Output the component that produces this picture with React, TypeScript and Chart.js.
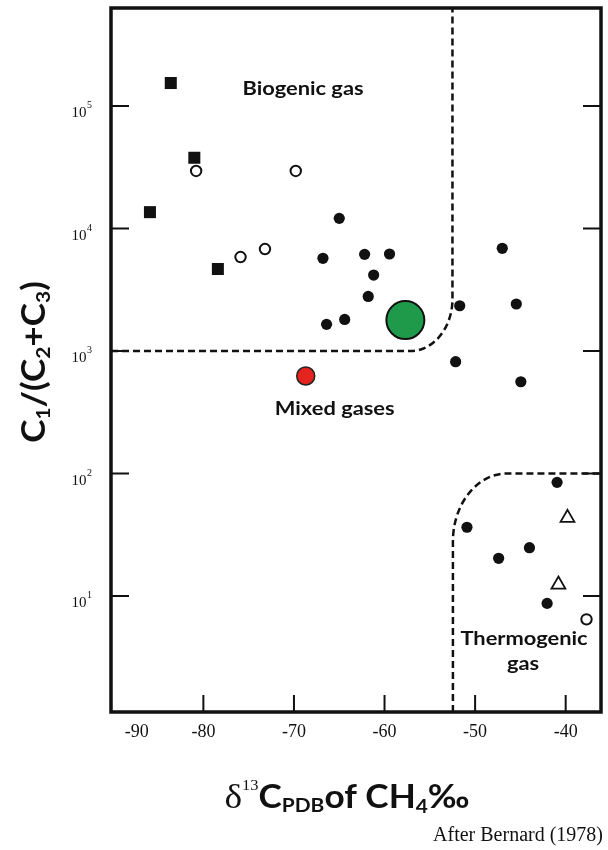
import { useEffect, useRef } from "react";
import { Chart, registerables } from "chart.js";

Chart.register(...registerables);

// δ13C of methane (‰ vs PDB) against the gas-wetness ratio C1/(C2+C3)
const squareD13C = [-83.6, -81.0, -85.9, -78.4];
const squareRatio = [154000, 37800, 13600, 4670];

const openCircleD13C = [-80.8, -69.8, -75.9, -73.2, -37.7];
const openCircleRatio = [29500, 29500, 5850, 6800, 6.45];

const filledCircleD13C = [
  -65.0, -66.8, -62.2, -59.45, -61.2, -61.8, -64.4, -66.4,
  -47.0, -51.7, -45.45, -52.15, -44.95,
  -40.95, -50.9, -44.0, -47.4, -42.05,
];
const filledCircleRatio = [
  12100, 5710, 6150, 6190, 4170, 2790, 1810, 1650,
  6890, 2340, 2420, 818, 561,
  84.7, 36.4, 24.8, 20.3, 8.7,
];

const triangleD13C = [-39.8, -40.8];
const triangleRatio = [43.4, 12.4];

const greenSampleD13C = [-57.7];
const greenSampleRatio = [1790];

const redSampleD13C = [-68.7];
const redSampleRatio = [625];

// Axis extents and ticks
const xRange = [-90.2, -36.1];
const yRange = [1.13, 631000];
const xTickValues = [-90, -80, -70, -60, -50, -40];
const xTickLabels = ["-90", "-80", "-70", "-60", "-50", "-40"];
const yTickExponents = [1, 2, 3, 4, 5];

// Genetic field limits (Bernard diagram)
const biogenicRatioLimit = 1000;
const biogenicD13CLimit = -52.5;
const thermogenicRatioLimit = 100;
const thermogenicD13CLimit = -52.45;

// Field names anchored in data coordinates (centre x, baseline y)
const fieldNames = ["Biogenic gas", "Mixed gases", "Thermogenic", "gas"];
const fieldNameD13C = [-69.0, -65.5, -44.6, -44.7];
const fieldNameRatio = [123000, 300, 3.98, 2.49];

const pts = (xs: number[], ys: number[]) => xs.map((x, i) => ({ x, y: ys[i] }));

type Run = { t: string; font: string; dy: number };

// Draws a line of mixed-size text centred on (cx, baseline cy), optionally
// rotated for a vertical axis title and widened by `stretch`.
function drawRuns(
  ctx: CanvasRenderingContext2D,
  runs: Run[],
  cx: number,
  cy: number,
  rotate: boolean,
  stretch: number
) {
  ctx.save();
  ctx.translate(cx, cy);
  if (rotate) ctx.rotate(-Math.PI / 2);
  ctx.scale(stretch, 1);
  ctx.textAlign = "left";
  ctx.textBaseline = "alphabetic";
  let total = 0;
  const widths = runs.map((r) => {
    ctx.font = r.font;
    const w = ctx.measureText(r.t).width;
    total += w;
    return w;
  });
  let pos = -total / 2;
  runs.forEach((r, i) => {
    ctx.font = r.font;
    ctx.fillText(r.t, pos, r.dy);
    pos += widths[i];
  });
  ctx.restore();
}

const INK = "#111";
const BOLD = (s: number) => `bold ${s}px Lato`;
const SERIF = (s: number) => `${s}px 'Liberation Serif'`;

const bernardPlugin = {
  id: "bernardDecor",
  beforeDatasetsDraw(chart: any) {
    const { ctx, chartArea: a, scales } = chart;
    const x = scales.x;
    const y = scales.y;
    ctx.save();
    ctx.strokeStyle = INK;
    ctx.lineWidth = 2.5;
    ctx.setLineDash([7, 4]);

    // biogenic field: C1/(C2+C3) > 1000 and δ13C < -52.5
    const by = y.getPixelForValue(biogenicRatioLimit);
    const bx = x.getPixelForValue(biogenicD13CLimit);
    const brx = 42;
    const bry = 52;
    ctx.beginPath();
    ctx.moveTo(a.left, by);
    ctx.lineTo(bx - brx, by);
    ctx.ellipse(bx - brx, by - bry, brx, bry, 0, Math.PI / 2, 0, true);
    ctx.lineTo(bx, a.top);
    ctx.stroke();

    // thermogenic field: C1/(C2+C3) < 100 and δ13C > -52.5
    const ty = y.getPixelForValue(thermogenicRatioLimit);
    const tx = x.getPixelForValue(thermogenicD13CLimit);
    const trx = 54;
    const tryy = 68;
    ctx.beginPath();
    ctx.moveTo(tx, a.bottom);
    ctx.lineTo(tx, ty + tryy);
    ctx.ellipse(tx + trx, ty + tryy, trx, tryy, 0, Math.PI, Math.PI * 1.5, false);
    ctx.lineTo(a.right, ty);
    ctx.stroke();
    ctx.restore();
  },
  afterDatasetsDraw(chart: any) {
    const { ctx, chartArea: a, scales } = chart;
    const x = scales.x;
    const y = scales.y;
    ctx.save();
    ctx.strokeStyle = INK;
    ctx.fillStyle = INK;

    // inward ticks
    ctx.lineWidth = 2;
    ctx.beginPath();
    xTickValues.forEach((v) => {
      const px = x.getPixelForValue(v);
      if (px - a.left < 4) return;
      ctx.moveTo(px, a.bottom);
      ctx.lineTo(px, a.bottom - 17);
    });
    yTickExponents.forEach((e) => {
      const py = y.getPixelForValue(Math.pow(10, e));
      ctx.moveTo(a.left, py);
      ctx.lineTo(a.left + 18, py);
      ctx.moveTo(a.right, py);
      ctx.lineTo(a.right - 18, py);
    });
    ctx.stroke();

    // frame
    ctx.lineWidth = 3.5;
    ctx.strokeRect(a.left, a.top, a.right - a.left, a.bottom - a.top);

    // x tick labels
    ctx.font = SERIF(18);
    ctx.textAlign = "center";
    ctx.textBaseline = "middle";
    xTickValues.forEach((v, i) => {
      const px = x.getPixelForValue(v) + (i === 0 ? 24 : 0);
      ctx.fillText(xTickLabels[i], px, a.bottom + 20);
    });

    // y tick labels: 10^n
    ctx.textBaseline = "alphabetic";
    ctx.textAlign = "right";
    yTickExponents.forEach((e) => {
      const py = y.getPixelForValue(Math.pow(10, e));
      const right = a.left - 19;
      ctx.font = SERIF(10);
      const sw = ctx.measureText(String(e)).width;
      ctx.fillText(String(e), right, py + 2);
      ctx.font = SERIF(15);
      ctx.fillText("10", right - sw - 0.5, py + 11);
    });

    // field names
    fieldNames.forEach((name, i) => {
      drawRuns(
        ctx,
        [{ t: name, font: BOLD(19), dy: 0 }],
        x.getPixelForValue(fieldNameD13C[i]),
        y.getPixelForValue(fieldNameRatio[i]),
        false,
        1.15
      );
    });

    // axis titles
    const midX = (a.left + a.right) / 2 - 9;
    drawRuns(
      ctx,
      [
        { t: "δ", font: SERIF(34), dy: 0 },
        { t: "13", font: SERIF(15), dy: -18 },
        { t: "C", font: BOLD(32), dy: 0 },
        { t: "PDB", font: BOLD(19), dy: 4 },
        { t: "of ", font: BOLD(32), dy: 0 },
        { t: "CH", font: BOLD(32), dy: 0 },
        { t: "4", font: BOLD(19), dy: 5 },
        { t: "‰", font: BOLD(32), dy: 0 },
      ],
      midX,
      a.bottom + 96,
      false,
      1.1
    );
    drawRuns(
      ctx,
      [
        { t: "C", font: BOLD(32), dy: 0 },
        { t: "1", font: BOLD(19), dy: 5 },
        { t: "/(C", font: BOLD(32), dy: 0 },
        { t: "2", font: BOLD(19), dy: 5 },
        { t: "+C", font: BOLD(32), dy: 0 },
        { t: "3", font: BOLD(19), dy: 5 },
        { t: ")", font: BOLD(32), dy: 0 },
      ],
      45,
      (a.top + a.bottom) / 2 + 2,
      true,
      1.1
    );

    // source note
    ctx.font = SERIF(20);
    ctx.textAlign = "right";
    ctx.fillText("After Bernard (1978)", 603, 841);
    ctx.restore();
  },
};

export default function App() {
  const canvasRef = useRef<HTMLCanvasElement | null>(null);

  useEffect(() => {
    if (!canvasRef.current) return;
    const chart = new Chart(canvasRef.current, {
      type: "scatter",
      data: {
        datasets: [
          {
            label: "squares",
            data: pts(squareD13C, squareRatio),
            pointStyle: "rect",
            pointRadius: 8.5,
            backgroundColor: INK,
            borderWidth: 0,
          },
          {
            label: "open circles",
            data: pts(openCircleD13C, openCircleRatio),
            pointStyle: "circle",
            pointRadius: 5.2,
            backgroundColor: "#fff",
            borderColor: INK,
            borderWidth: 2,
          },
          {
            label: "filled circles",
            data: pts(filledCircleD13C, filledCircleRatio),
            pointStyle: "circle",
            pointRadius: 5.6,
            backgroundColor: INK,
            borderWidth: 0,
          },
          {
            label: "triangles",
            data: pts(triangleD13C, triangleRatio),
            pointStyle: "triangle",
            pointRadius: 8,
            backgroundColor: "#fff",
            borderColor: INK,
            borderWidth: 1.8,
          },
          {
            label: "green sample",
            data: pts(greenSampleD13C, greenSampleRatio),
            pointStyle: "circle",
            pointRadius: 19,
            backgroundColor: "#1f9a4b",
            borderColor: INK,
            borderWidth: 2,
          },
          {
            label: "red sample",
            data: pts(redSampleD13C, redSampleRatio),
            pointStyle: "circle",
            pointRadius: 9,
            backgroundColor: "#e52420",
            borderColor: "#222",
            borderWidth: 1.5,
          },
        ],
      },
      options: {
        animation: false,
        responsive: true,
        maintainAspectRatio: false,
        layout: { autoPadding: false, padding: { left: 111, right: 7, top: 8, bottom: 138 } },
        plugins: { legend: { display: false }, tooltip: { enabled: false } },
        scales: {
          x: { type: "linear", display: false, min: xRange[0], max: xRange[1] },
          y: { type: "logarithmic", display: false, min: yRange[0], max: yRange[1] },
        },
      },
      plugins: [bernardPlugin],
    });
    return () => chart.destroy();
  }, []);

  return (
    <div style={{ position: "absolute", left: 0, top: 0, width: 608, height: 850, background: "#fff" }}>
      <canvas ref={canvasRef} />
    </div>
  );
}
